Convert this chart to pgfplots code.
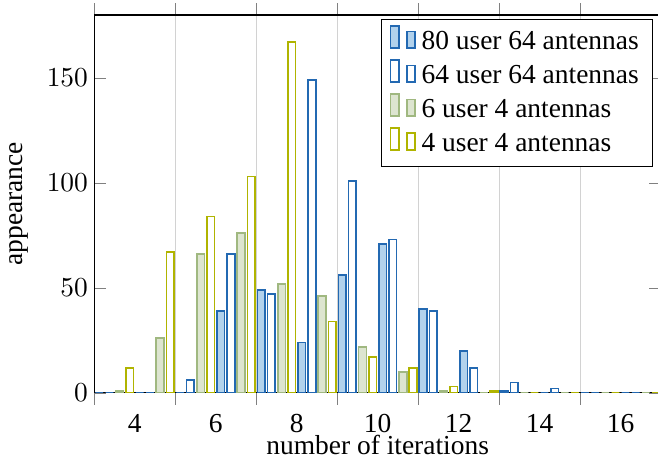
\documentclass[border=0pt]{standalone}
\usepackage[no-math]{fontspec}
\setmainfont{Liberation Serif}
\usepackage{pgfplots}
\pgfplotsset{compat=1.18}

\definecolor{cblue}{RGB}{35,105,178}
\definecolor{cbluefill}{RGB}{178,210,236}
\definecolor{cgreen}{RGB}{160,184,128}
\definecolor{cgreenfill}{RGB}{221,229,208}
\definecolor{cyellow}{RGB}{176,180,0}

\begin{document}
\begin{tikzpicture}
\begin{axis}[
  scale only axis, width=206.5pt, height=137.7pt,
  xmin=3, xmax=17, ymin=0, ymax=180,
  ybar=0.9pt, bar width=2.8pt,
  xtick={3,5,...,17}, xticklabels={4,6,8,10,12,14,16}, x tick label as interval,
  xmajorgrids, grid style={gray!35},
  xtick align=outside,
  ytick={0,50,100,150},
  tick style={gray},
  yticklabel style={xshift=1.2pt},
  xlabel={number of iterations}, ylabel={appearance},
  xlabel style={yshift=6pt},
  legend cell align=left,
  legend style={at={(1,1)}, anchor=north east, xshift=-2.9pt, yshift=-1.5pt, draw=black},
  every axis plot/.append style={line width=0.6pt},
]
\addplot[draw=cblue, fill=cbluefill] coordinates {
(3.5,0) (4.5,0) (5.5,0) (6.5,39) (7.5,49) (8.5,24) (9.5,56) (10.5,71) (11.5,40) (12.5,20) (13.5,1) (14.5,0) (15.5,0) (16.5,0)};
\addlegendentry{80 user 64 antennas}
\addplot[draw=cblue, fill=white] coordinates {
(3.5,0) (4.5,0) (5.5,6) (6.5,66) (7.5,47) (8.5,149) (9.5,101) (10.5,73) (11.5,39) (12.5,12) (13.5,5) (14.5,2) (15.5,0) (16.5,0)};
\addlegendentry{64 user 64 antennas}
\addplot[draw=cgreen, fill=cgreenfill] coordinates {
(3.5,1) (4.5,26) (5.5,66) (6.5,76) (7.5,52) (8.5,46) (9.5,22) (10.5,10) (11.5,1) (12.5,0) (13.5,0) (14.5,0) (15.5,0) (16.5,0)};
\addlegendentry{6 user 4 antennas}
\addplot[draw=cyellow, fill=white] coordinates {
(3.5,12) (4.5,67) (5.5,84) (6.5,103) (7.5,167) (8.5,34) (9.5,17) (10.5,12) (11.5,3) (12.5,1) (13.5,0) (14.5,0) (15.5,0) (16.5,0)};
\addlegendentry{4 user 4 antennas}
\end{axis}
\coordinate (bbsw) at (current bounding box.south west);
\coordinate (bbne) at (current bounding box.north east);
\pgfresetboundingbox
\useasboundingbox ([yshift=-2.1pt]bbsw) rectangle ([xshift=-1.3pt,yshift=1.1pt]bbne);
\end{tikzpicture}
\end{document}
